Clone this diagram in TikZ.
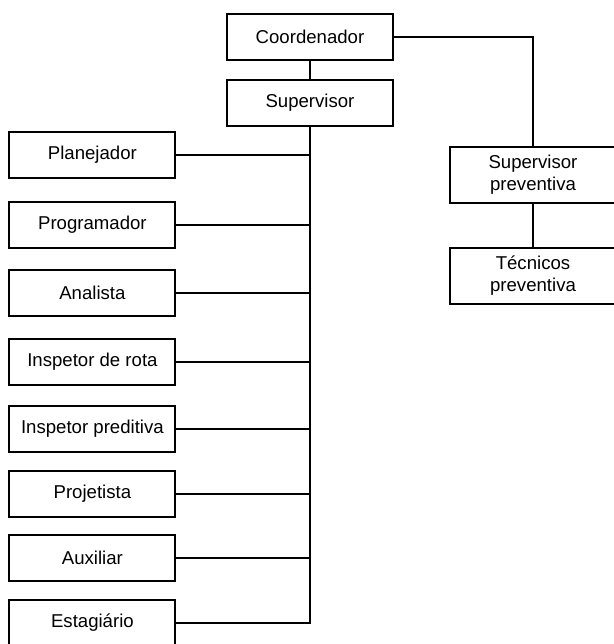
\documentclass[tikz,border=0pt]{standalone}
\usepackage{fontspec}
\setmainfont{Liberation Sans}
\usetikzlibrary{positioning}

\begin{document}
\begin{tikzpicture}[x=0.5pt, y=-0.5pt, line width=1pt]
        \tikzstyle{every node}=[draw, line width=1pt, minimum width=83pt, minimum height=23pt, inner sep=1pt, font=\fontsize{9.3}{10.8}\selectfont, align=center]
        \tikzstyle{twoline}=[minimum height=28pt]
        \useasboundingbox (0,0) rectangle (614,644);
        % topo
        \node (coord) at (310,37) {Coordenador};
        \node (sup) at (310,103) {Supervisor};
        % ramo esquerdo
        \node (plan) at (92.4,154.7) {Planejador};
        \node (prog) at (92.4,225) {Programador};
        \node (anal) at (92.4,293.3) {Analista};
        \node (rota) at (92.4,361.5) {Inspetor de rota};
        \node (pred) at (92.4,429) {Inspetor preditiva};
        \node (proj) at (92.4,493.7) {Projetista};
        \node (aux) at (92.4,557.8) {Auxiliar};
        \node (est) at (92.4,623) {Estagi\'ario};
        % ramo direito
        \node [twoline] (supprev) at (533,174.8) {Supervisor\\preventiva};
        \node [twoline] (tecprev) at (533,275.7) {T\'ecnicos\\preventiva};
        \draw (coord) -- (sup);
        \draw (sup.south) |- (est.east);
        \foreach \n in {plan,prog,anal,rota,pred,proj,aux}
            \draw (\n.east) -- (\n.east -| sup.south);
        \draw (coord.east) -| (supprev.north);
        \draw (supprev) -- (tecprev);
    \end{tikzpicture}
\end{document}
